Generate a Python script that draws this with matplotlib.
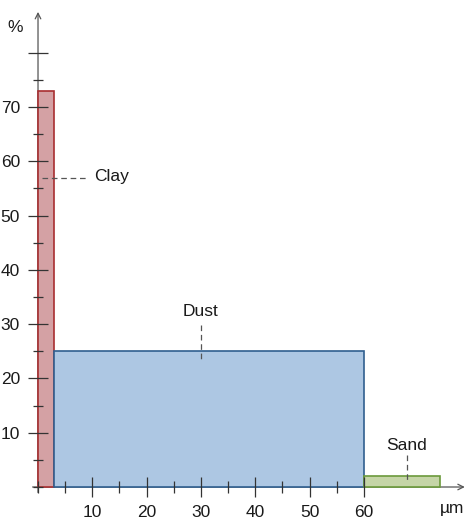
import matplotlib
matplotlib.use("Agg")
import matplotlib.pyplot as plt
from matplotlib.ticker import FixedLocator, FixedFormatter

plt.rcParams['font.family'] = ['Liberation Sans', 'DejaVu Sans']

# Data
categories = ["Clay", "Dust", "Sand"]
size_from = [0, 3, 60]        # µm
size_to = [3, 60, 74]         # µm
percent = [73, 25, 2]         # %
fill_colors = ["#d4a1a4", "#adc7e3", "#c5d5a7"]
edge_colors = ["#a82e30", "#305f8f", "#6b9a3b"]

x_major = [10, 20, 30, 40, 50, 60]
x_minor = [0, 5, 15, 25, 35, 45, 55]
y_major = [10, 20, 30, 40, 50, 60, 70, 80]
y_major_labels = ["10", "20", "30", "40", "50", "60", "70", ""]
y_minor = [0, 5, 15, 25, 35, 45, 55, 65, 75]

FS = 12.5

fig = plt.figure(figsize=(4.66, 5.21), dpi=100)
ax = fig.add_axes([0, 0, 1, 1])
ax.set_xlim(-7.0, 78.82)
ax.set_ylim(-6.26, 89.69)

widths = [b - a for a, b in zip(size_from, size_to)]
ax.bar(size_from, percent, width=widths, align='edge',
       color=fill_colors, edgecolor=edge_colors, linewidth=1.2, zorder=1)

for s in ['top', 'right', 'left', 'bottom']:
    ax.spines[s].set_visible(False)
ax.spines['left'].set_position(('data', 0))
ax.spines['bottom'].set_position(('data', 0))

ax.xaxis.set_major_locator(FixedLocator(x_major))
ax.xaxis.set_minor_locator(FixedLocator(x_minor))
ax.yaxis.set_major_locator(FixedLocator(y_major))
ax.yaxis.set_major_formatter(FixedFormatter(y_major_labels))
ax.yaxis.set_minor_locator(FixedLocator(y_minor))

tick_color = "#333333"
ax.tick_params(axis='x', which='major', direction='inout', length=15, width=0.9,
               color=tick_color, pad=5.5, labelsize=FS, labelcolor="#1a1a1a")
ax.tick_params(axis='x', which='minor', direction='inout', length=8.5, width=0.9,
               color=tick_color)
ax.tick_params(axis='y', which='major', direction='inout', length=14.4, width=0.9,
               color=tick_color, pad=5.8, labelsize=FS, labelcolor="#1a1a1a")
ax.tick_params(axis='y', which='minor', direction='inout', length=7.5, width=0.9,
               color=tick_color)

# Axis lines with arrows
axis_color = "#555555"
ax.annotate("", xy=(0, 87.5), xytext=(0, -1), zorder=0.8,
            arrowprops=dict(arrowstyle='->', color=axis_color, lw=0.9,
                            shrinkA=0, shrinkB=0, mutation_scale=10))
ax.annotate("", xy=(78.6, 0), xytext=(-1, 0), zorder=0.8,
            arrowprops=dict(arrowstyle='->', color=axis_color, lw=0.9,
                            shrinkA=0, shrinkB=0, mutation_scale=10))

ax.text(-4.2, 84.7, "%", ha='center', va='center', fontsize=FS, color="#1a1a1a")
ax.text(76.2, -3.9, "µm", ha='center', va='center', fontsize=FS, color="#1a1a1a")

# Annotations
lab_color = "#1a1a1a"
dash_color = "#555555"
ax.plot([0.7, 9.2], [57, 57], ls=(0, (4.5, 3)), color=dash_color, lw=0.9, zorder=3)
ax.text(10.4, 57.1, categories[0], ha='left', va='center', fontsize=FS, color=lab_color)

ax.plot([30, 30], [29.8, 23], ls=(0, (4.5, 3)), color=dash_color, lw=0.9, zorder=3)
ax.text(30, 32.3, categories[1], ha='center', va='center', fontsize=FS, color=lab_color)

ax.plot([67.9, 67.9], [5.9, 1.3], ls=(0, (4.5, 3)), color=dash_color, lw=0.9, zorder=3)
ax.text(67.9, 7.7, categories[2], ha='center', va='center', fontsize=FS, color=lab_color)

fig.savefig("out.png", dpi=100)
